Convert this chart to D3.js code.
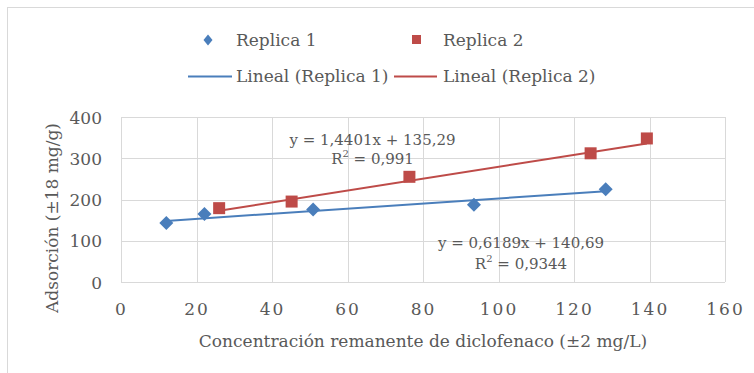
<!DOCTYPE html>
<html>
<head>
<meta charset="utf-8">
<script src="https://cdn.jsdelivr.net/npm/d3@7"></script>
<style>
  body { margin: 0; background: #fff; }
  text { font-family: "DejaVu Serif", serif; fill: #595959; }
</style>
</head>
<body>
<div id="chart"></div>
<script>
// data
var seriesNames = ["Replica 1", "Replica 2"];
var rep1X = [12, 22.1, 50.9, 93.5, 128.4];
var rep1Y = [143, 165, 176, 187, 225];
var rep2X = [26, 45.2, 76.4, 124.4, 139.3];
var rep2Y = [179, 195, 255, 312, 348];
// trendline coefficients (slope, intercept) and R2 from the labels
var trendSlope = [0.6189, 1.4401];
var trendIntercept = [140.69, 135.29];
var trendLabels = ["y = 0,6189x + 140,69", "y = 1,4401x + 135,29"];
var r2Labels = ["0,9344", "0,991"];
var xTicks = [0, 20, 40, 60, 80, 100, 120, 140, 160];
var yTicks = [0, 100, 200, 300, 400];
var colors = ["#4a7ebb", "#be4b48"];

var W = 754, H = 373;
var margin = {top: 117, right: 29, bottom: 91, left: 121},
    width = W - margin.left - margin.right,
    height = H - margin.top - margin.bottom;

var root = d3.select("#chart")
  .append("svg")
    .attr("width", W)
    .attr("height", H);

// outer chart frame
root.append("rect")
  .attr("x", 7.5).attr("y", 7.5)
  .attr("width", 800).attr("height", 400)
  .attr("fill", "#fff")
  .attr("stroke", "#d9d9d9");

var svg = root.append("g")
  .attr("transform", "translate(" + margin.left + "," + margin.top + ")");

var x = d3.scaleLinear().domain([0, 160]).range([0, width]);
var y = d3.scaleLinear().domain([0, 400]).range([height, 0]);

// gridlines
svg.append("g")
  .selectAll("line")
  .data(xTicks)
  .enter().append("line")
    .attr("x1", function(d) { return Math.round(x(d)) + 0.5; })
    .attr("x2", function(d) { return Math.round(x(d)) + 0.5; })
    .attr("y1", 0).attr("y2", height)
    .attr("stroke", "#d9d9d9");
svg.append("g")
  .selectAll("line")
  .data(yTicks)
  .enter().append("line")
    .attr("y1", function(d) { return Math.round(y(d)) + 0.5; })
    .attr("y2", function(d) { return Math.round(y(d)) + 0.5; })
    .attr("x1", 0).attr("x2", width)
    .attr("stroke", "#d9d9d9");

// X axis labels
var xAxis = svg.append("g")
  .attr("transform", "translate(0," + height + ")")
  .call(d3.axisBottom(x).tickValues(xTicks).tickSize(0).tickPadding(0));
xAxis.select(".domain").remove();
xAxis.selectAll("text")
  .attr("y", 33).attr("dy", null)
  .style("font-size", "17px")
  .style("letter-spacing", "2px")
  .attr("font-family", null);

// Y axis labels
var yAxis = svg.append("g")
  .call(d3.axisLeft(y).tickValues(yTicks).tickSize(0).tickPadding(19));
yAxis.select(".domain").remove();
yAxis.selectAll("text")
  .attr("dy", "0.36em")
  .style("font-size", "17px")
  .attr("font-family", null);
svg.selectAll(".tick text").style("fill", "#595959");

// trendlines
var series = [
  {x: rep1X, y: rep1Y},
  {x: rep2X, y: rep2Y}
];
series.forEach(function(s, i) {
  var x0 = d3.min(s.x), x1 = d3.max(s.x);
  svg.append("line")
    .attr("x1", x(x0)).attr("y1", y(trendSlope[i] * x0 + trendIntercept[i]))
    .attr("x2", x(x1)).attr("y2", y(trendSlope[i] * x1 + trendIntercept[i]))
    .attr("stroke", colors[i])
    .attr("stroke-width", 2);
});

// markers
var pts1 = rep1X.map(function(d, i) { return [d, rep1Y[i]]; });
var pts2 = rep2X.map(function(d, i) { return [d, rep2Y[i]]; });
svg.append("g")
  .selectAll("path")
  .data(pts1)
  .enter().append("path")
    .attr("d", "M0,-7L7,0L0,7L-7,0Z")
    .attr("transform", function(d) { return "translate(" + x(d[0]) + "," + y(d[1]) + ")"; })
    .attr("fill", colors[0]);
svg.append("g")
  .selectAll("rect")
  .data(pts2)
  .enter().append("rect")
    .attr("x", function(d) { return x(d[0]) - 6; })
    .attr("y", function(d) { return y(d[1]) - 6; })
    .attr("width", 12).attr("height", 12)
    .attr("fill", colors[1]);

// equation labels
var eqPos = [[521, 248, 269], [372.5, 145, 164]];
eqPos.forEach(function(p, i) {
  svg.append("text")
    .attr("x", p[0] - margin.left).attr("y", p[1] - margin.top)
    .attr("text-anchor", "middle")
    .style("font-size", "15px")
    .text(trendLabels[i]);
  var r = svg.append("text")
    .attr("x", p[0] - margin.left).attr("y", p[2] - margin.top)
    .attr("text-anchor", "middle")
    .style("font-size", "15px");
  r.append("tspan").text("R");
  r.append("tspan").attr("dy", -7).style("font-size", "10px").text("2");
  r.append("tspan").attr("dy", 7).text(" = " + r2Labels[i]);
});

// axis titles
root.append("text")
  .attr("x", margin.left + width / 2).attr("y", 347)
  .attr("text-anchor", "middle")
  .style("font-size", "17px")
  .text("Concentración remanente de diclofenaco (±2 mg/L)");
root.append("text")
  .attr("transform", "translate(58,218)rotate(-90)")
  .attr("text-anchor", "middle")
  .style("font-size", "17px")
  .text("Adsorción (±18 mg/g)");

// legend
var leg = root.append("g");
leg.append("path")
  .attr("d", "M0,-5.5L4.5,0L0,5.5L-4.5,0Z")
  .attr("transform", "translate(208,40)")
  .attr("fill", colors[0]);
leg.append("rect")
  .attr("x", 412).attr("y", 35).attr("width", 9).attr("height", 9)
  .attr("fill", colors[1]);
leg.append("line")
  .attr("x1", 188).attr("x2", 232).attr("y1", 76.5).attr("y2", 76.5)
  .attr("stroke", colors[0]).attr("stroke-width", 2);
leg.append("line")
  .attr("x1", 394).attr("x2", 437).attr("y1", 76.5).attr("y2", 76.5)
  .attr("stroke", colors[1]).attr("stroke-width", 2);
var legText = [
  [236, 46, seriesNames[0]],
  [443, 46, seriesNames[1]],
  [236, 82, "Lineal (" + seriesNames[0] + ")"],
  [443, 82, "Lineal (" + seriesNames[1] + ")"]
];
leg.selectAll("text.lt")
  .data(legText)
  .enter().append("text")
    .attr("class", "lt")
    .attr("x", function(d) { return d[0]; })
    .attr("y", function(d) { return d[1]; })
    .style("font-size", "17px")
    .text(function(d) { return d[2]; });
</script>
</body>
</html>
